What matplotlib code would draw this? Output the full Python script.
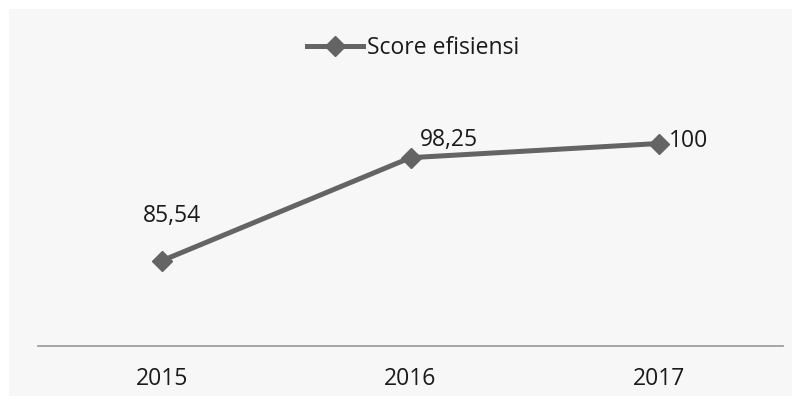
import matplotlib.pyplot as plt
from matplotlib.patches import Rectangle

years = ['2015', '2016', '2017']
scores = [85.54, 98.25, 100]
labels = ['85,54', '98,25', '100']

plt.rcParams['font.family'] = ['Open Sans', 'DejaVu Sans']

fig = plt.figure(figsize=(8.01, 4.05), dpi=100)
fig.patch.set_facecolor('white')
# light grey chart area
fig.patches.append(Rectangle((9/801, 9/405), 783/801, 387/405, transform=fig.transFigure,
                             facecolor='#f7f7f7', edgecolor='none', zorder=-10))

ax = fig.add_axes([38/801, 59/405, 745/801, 243/405])
ax.set_zorder(5)
ax.set_facecolor('none')
x = list(range(len(years)))
ax.plot(x, scores, color='#646464', lw=3.6, marker='D', ms=10.5,
        mec='#646464', mfc='#646464', label='Score efisiensi', clip_on=False)
ax.set_xlim(-0.5, 2.5)
ax.set_ylim(75, 105)

for s in ['top', 'right', 'left']:
    ax.spines[s].set_visible(False)
ax.spines['bottom'].set_color('#a0a0a0')
ax.spines['bottom'].set_linewidth(1.3)
ax.set_yticks([])
ax.set_xticks(x)
ax.set_xticklabels(years, fontsize=16.5, color='#1a1a1a')
ax.tick_params(axis='x', length=0, pad=15)

offsets = [(7, 32, 'center'), (6.5, 13, 'left'), (7, 1.5, 'left')]
for xi, yi, lab, (dx, dy, ha) in zip(x, scores, labels, offsets):
    ax.annotate(lab, (xi, yi), xytext=(dx, dy), textcoords='offset points',
                ha=ha, va='center', fontsize=16.5, color='#1a1a1a')

ax.legend(loc='center', bbox_to_anchor=(413/801, 1 - 48/405), bbox_transform=fig.transFigure,
          frameon=False, fontsize=16.5, handlelength=2.45, handletextpad=0.2,
          labelcolor='#1a1a1a')

fig.savefig('out.png', dpi=100, facecolor='white')
